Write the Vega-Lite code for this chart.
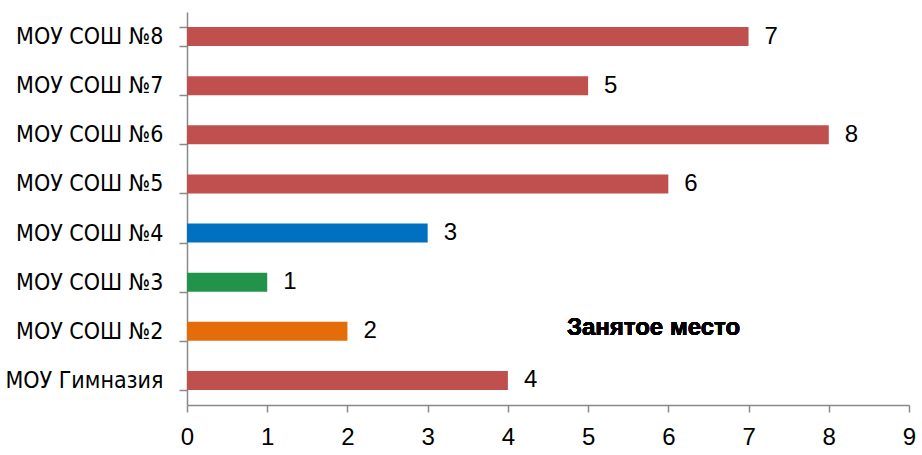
{
  "$schema": "https://vega.github.io/schema/vega-lite/v6.json",
  "width": 722,
  "height": 393,
  "autosize": {"type": "none"},
  "padding": {"left": 187, "top": 12, "right": 13, "bottom": 50},
  "background": "white",
  "config": {
    "view": {"stroke": null},
    "font": "Liberation Sans"
  },
  "data": {
    "values": [
      {"school": "МОУ СОШ №8", "place": 7},
      {"school": "МОУ СОШ №7", "place": 5},
      {"school": "МОУ СОШ №6", "place": 8},
      {"school": "МОУ СОШ №5", "place": 6},
      {"school": "МОУ СОШ №4", "place": 3},
      {"school": "МОУ СОШ №3", "place": 1},
      {"school": "МОУ СОШ №2", "place": 2},
      {"school": "МОУ Гимназия", "place": 4}
    ]
  },
  "encoding": {
    "y": {
      "field": "school",
      "type": "nominal",
      "sort": null,
      "scale": {"paddingInner": 0.615, "paddingOuter": 0.3075},
      "axis": {
        "title": null,
        "tickBand": "extent",
        "domainColor": "#898989",
        "domainWidth": 1.5,
        "tickColor": "#898989",
        "tickWidth": 1.5,
        "tickSize": 8,
        "labelPadding": 16,
        "labelFontSize": 23,
        "labelColor": "#000000",
        "labelFont": "DejaVu Sans Condensed"
      }
    }
  },
  "layer": [
    {
      "mark": {"type": "bar"},
      "encoding": {
        "x": {
          "field": "place",
          "type": "quantitative",
          "scale": {"domain": [0, 9], "nice": false},
          "axis": {
            "title": null,
            "values": [0, 1, 2, 3, 4, 5, 6, 7, 8, 9],
            "format": "d",
            "grid": false,
            "domainColor": "#898989",
            "domainWidth": 1.5,
            "tickColor": "#898989",
            "tickWidth": 1.5,
            "tickSize": 7,
            "labelPadding": 13,
            "labelFontSize": 24,
            "labelColor": "#000000",
            "labelFont": "Liberation Sans",
            "labelFlush": false
          }
        },
        "color": {
          "field": "school",
          "type": "nominal",
          "legend": null,
          "scale": {
            "domain": ["МОУ СОШ №8", "МОУ СОШ №7", "МОУ СОШ №6", "МОУ СОШ №5", "МОУ СОШ №4", "МОУ СОШ №3", "МОУ СОШ №2", "МОУ Гимназия"],
            "range": ["#C0504D", "#C0504D", "#C0504D", "#C0504D", "#0070C0", "#21934B", "#E46C0A", "#C0504D"]
          }
        }
      }
    },
    {
      "mark": {"type": "text", "align": "left", "baseline": "middle", "dx": 16, "fontSize": 24, "font": "Liberation Sans", "color": "#000000"},
      "encoding": {
        "x": {"field": "place", "type": "quantitative"},
        "text": {"field": "place", "type": "quantitative"}
      }
    },
    {
      "mark": {"type": "text", "align": "center", "baseline": "middle", "dy": -3, "fontSize": 24, "fontWeight": "bold", "font": "Liberation Sans", "color": "#000000"},
      "encoding": {
        "x": {"datum": 5.815, "type": "quantitative"},
        "y": {"datum": "МОУ СОШ №2"},
        "text": {"value": "Занятое место"}
      }
    }
  ]
}
